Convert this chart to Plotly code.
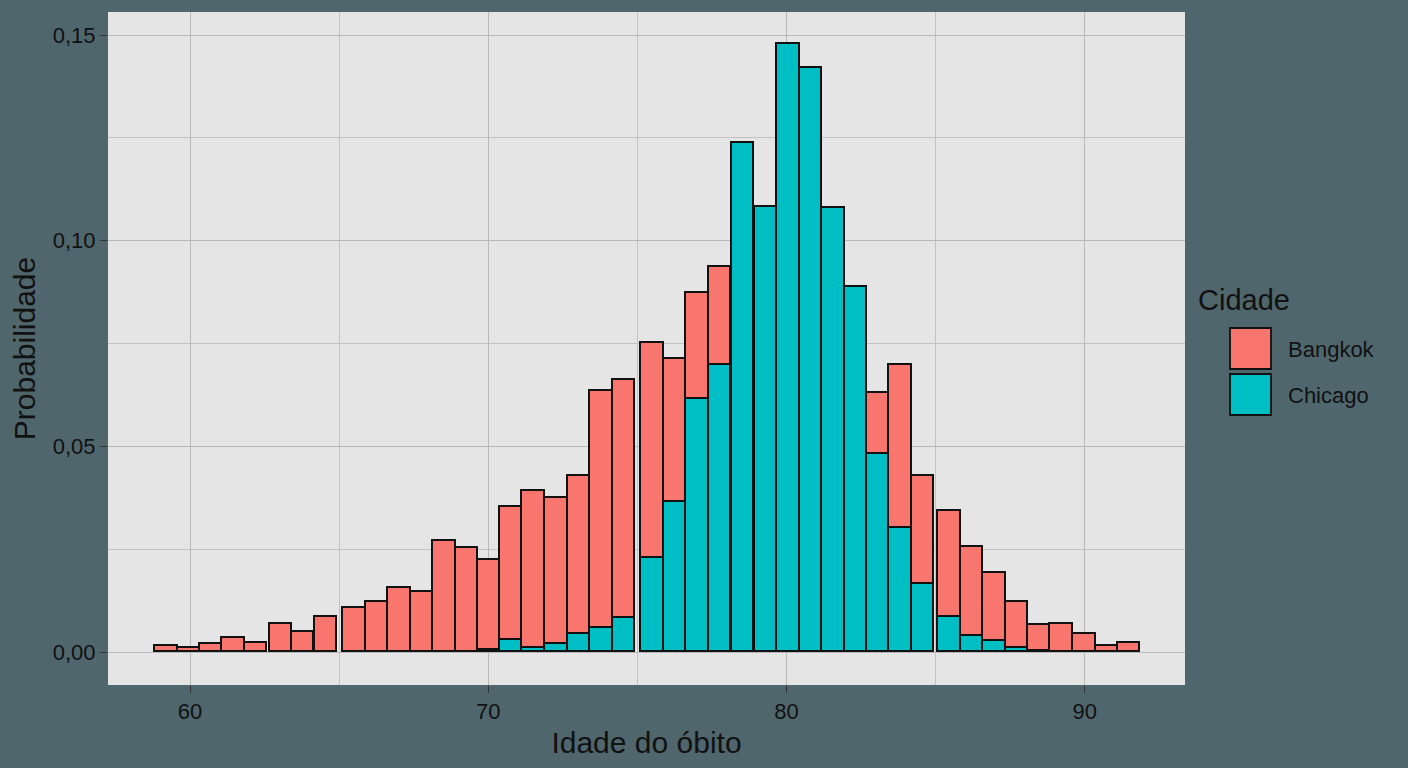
import plotly.graph_objects as go

# bin centres (age at death) and bar heights
idade = [59.21, 59.97, 60.70, 61.46, 62.21, 63.05, 63.79, 64.56,
         65.51, 66.27, 67.02, 67.78, 68.53, 69.29, 70.02, 70.76, 71.52, 72.29, 73.04, 73.80, 74.56,
         75.50, 76.26, 77.01, 77.77, 78.54, 79.31, 80.06, 80.82, 81.57, 82.32, 83.06, 83.82, 84.57,
         85.46, 86.22, 86.97, 87.72, 88.46, 89.22, 89.99, 90.74, 91.48]

chicago = [0, 0, 0, 0, 0, 0, 0, 0,
           0, 0, 0, 0, 0, 0, 0.0005, 0.0030, 0.0010, 0.0020, 0.0045, 0.0058, 0.0082,
           0.0228, 0.0365, 0.0616, 0.0697, 0.1237, 0.1081, 0.1478, 0.1419, 0.1080, 0.0887, 0.0481, 0.0301, 0.0165,
           0.0086, 0.0040, 0.0026, 0.0011, 0.0003, 0, 0, 0, 0]

bangkok = [0.0016, 0.0010, 0.0020, 0.0034, 0.0022, 0.0069, 0.0050, 0.0085,
           0.0106, 0.0122, 0.0157, 0.0147, 0.0270, 0.0252, 0.0219, 0.0322, 0.0382, 0.0354, 0.0383, 0.0577, 0.0579,
           0.0523, 0.0347, 0.0258, 0.0238, 0, 0, 0, 0, 0, 0, 0.0148, 0.0396, 0.0262,
           0.0256, 0.0215, 0.0166, 0.0110, 0.0063, 0.0069, 0.0043, 0.0016, 0.0022]

cidades = ["Bangkok", "Chicago"]
cores = {"Bangkok": "#F8766D", "Chicago": "#00BFC4"}

bg = "#50666d"
fonte = "Liberation Sans, Arial, sans-serif"

fig = go.Figure()
# ggplot stacks the first level on top, so Chicago goes in first
fig.add_trace(go.Bar(x=idade, y=chicago, name="Chicago", width=0.75,
                     marker=dict(color=cores["Chicago"], line=dict(color="#111111", width=1.8)),
                     showlegend=False))
fig.add_trace(go.Bar(x=idade, y=bangkok, name="Bangkok", width=0.75,
                     marker=dict(color=cores["Bangkok"], line=dict(color="#111111", width=1.8)),
                     showlegend=False))

fig.update_layout(
    width=1408, height=768,
    barmode="stack", bargap=0,
    paper_bgcolor=bg, plot_bgcolor="#e5e5e5",
    separators=",.",
    font=dict(family=fonte, color="#111111"),
    margin=dict(l=108, r=223, t=12, b=83),
)

fig.update_xaxes(
    range=[57.25, 93.36], tickvals=[60, 70, 80, 90],
    showgrid=True, gridcolor="#b8b8b8", gridwidth=1.2,
    minor=dict(tickvals=[65, 75, 85], showgrid=True, gridcolor="#c2c2c2", gridwidth=1.1),
    zeroline=False, ticks="outside", ticklen=7, tickcolor="#333333", tickwidth=1.2,
    tickfont=dict(size=22, color="#111111"),
    title=dict(text="Idade do óbito", font=dict(size=30, color="#111111"), standoff=8),
)
fig.update_yaxes(
    range=[-0.008, 0.1556], tickvals=[0, 0.05, 0.10, 0.15], tickformat=".2f",
    showgrid=True, gridcolor="#b8b8b8", gridwidth=1.2,
    minor=dict(tickvals=[0.025, 0.075, 0.125], showgrid=True, gridcolor="#c2c2c2", gridwidth=1.1),
    zeroline=False, ticks="outside", ticklen=7, tickcolor="#333333", tickwidth=1.2,
    tickfont=dict(size=22, color="#111111"),
    title=dict(text="Probabilidade", font=dict(size=30, color="#111111"), standoff=8),
)


# legend drawn by hand so the keys are as big as ggplot's
def px_x(p):
    return (p - 108) / 1077


def px_y(p):
    return (685 - p) / 673


fig.add_annotation(text="Cidade", x=px_x(1196), y=px_y(300), xref="paper", yref="paper",
                   xanchor="left", yanchor="middle", showarrow=False,
                   font=dict(size=29, color="#111111"))
for i, c in enumerate(cidades):
    top = 328 + i * 46
    fig.add_shape(type="rect", xref="paper", yref="paper",
                  x0=px_x(1230), x1=px_x(1271), y0=px_y(top + 41), y1=px_y(top),
                  fillcolor=cores[c], line=dict(color="#111111", width=1.8))
    fig.add_annotation(text=c, x=px_x(1286), y=px_y(top + 21), xref="paper", yref="paper",
                       xanchor="left", yanchor="middle", showarrow=False,
                       font=dict(size=22, color="#111111"))

fig.write_html("out.html", config={"displayModeBar": False},
               post_script="document.body.style.margin='0';")
